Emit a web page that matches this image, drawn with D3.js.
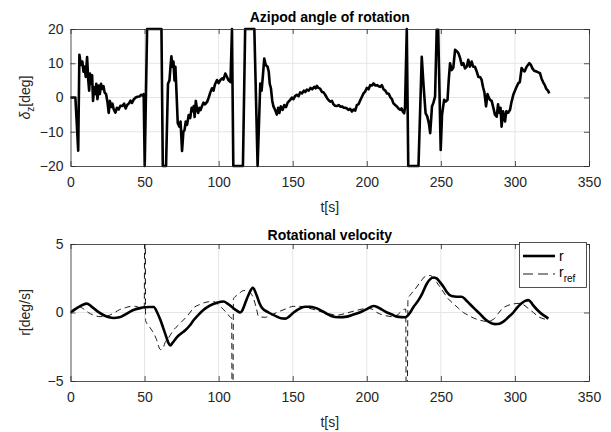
<!DOCTYPE html>
<html>
<head>
<meta charset="utf-8">
<script src="https://cdn.jsdelivr.net/npm/d3@7"></script>
<style>
  html, body { margin: 0; padding: 0; background: #fff; }
  svg { display: block; font-family: "Liberation Sans", Arial, Helvetica, sans-serif; }
  .axis text { fill: #262626; font-size: 14px; }
  .axis path, .axis line { stroke: #262626; stroke-width: 0.8; }
</style>
</head>
<body>
<svg id="chart" width="611" height="432"></svg>
<script>
// Azipod angle of rotation, delta_z [deg] over time t [s]
const azT = [0,3.3,5.2,6.0,7.0,8.0,8.8,9.5,10.3,11.2,12.0,12.6,13.2,14.0,14.6,15.2,16.0,16.8,17.4,18.2,19.0,19.8,20.6,21.4,22.3,23.0,24.0,25.0,25.8,26.6,27.4,28.3,29.2,30.3,31.3,32.5,33.7,35.0,36.2,37.2,38.3,39.5,40.5,41.5,42.8,44.0,45.2,46.5,47.8,48.8,49.4,50.1,51.7,61.4,62.3,64.5,65.8,66.8,67.5,68.1,68.8,69.5,70.2,70.8,71.5,72.4,73.5,74.3,75.3,76.2,77.0,77.8,78.7,79.8,80.8,81.8,82.6,83.2,83.8,84.6,85.4,86.2,87.0,87.7,88.8,89.8,90.8,92.2,93.3,94.4,95.5,96.5,97.5,98.9,100,101,102.3,103.2,104.5,105.4,106.7,108.0,109.0,109.9,116.4,117.9,124.1,126.3,128.1,129.0,129.8,130.8,131.8,133.0,133.8,134.5,135.3,136.2,137.0,138.0,139.3,140.2,141.0,142.0,143.2,144.3,145.5,146.6,148.3,149.5,150.5,151.6,152.8,154.0,155.0,156.2,157.5,158.5,159.5,160.8,162.0,163.2,164.5,165.5,166.3,167.3,168.5,169.8,170.8,171.9,173.2,174.3,175.3,176.5,177.5,178.6,179.8,181.0,182.3,183.4,184.5,185.6,186.6,187.6,188.7,190.0,191.0,192.2,193.3,194.5,195.6,196.8,197.8,199.0,200.0,201.2,202.3,203.5,204.5,205.8,207.0,208.0,209.0,210.2,211.3,212.5,213.6,214.8,216.0,217.0,218.0,219.2,220.3,221.4,222.5,223.5,224.3,225.2,225.8,227.0,228.0,234.9,237.1,238.4,239.7,240.8,241.9,242.8,243.5,244.0,245.0,246.1,247.2,248.2,249.9,250.8,252.2,253.3,254.5,255.3,256.2,257.3,258.4,259.6,260.8,261.9,263.0,264.1,265.2,266.3,267.5,268.5,269.6,270.8,271.8,273.0,274.2,275.3,276.4,277.5,278.5,279.4,280.5,281.5,282.3,283.2,284.3,285.5,286.5,287.7,288.6,289.5,290.3,291.0,292.0,293.3,294.2,295.3,296.7,297.6,298.9,300.0,301.0,302.3,303.3,304.5,305.5,306.5,307.9,308.8,309.7,310.8,311.8,313.0,315.0,316.9,318.0,319.0,320.2,321.2,322.3,323.2];
const azDeg = [0,0,-15.5,12.5,9.5,10.5,7.5,9,6,11.8,5,2,7,4,6.5,-1,3,1,4,-0.5,3.5,1,4,2.5,3.3,1.5,1,-1.5,-4.5,-1,-2.8,-1.8,-3.5,-4.4,-3,-3.5,-2.4,-2.5,-1.8,-3.2,-2.2,-1.7,-0.9,-1.6,-0.5,0,0.2,0.3,0.8,0.5,1,-20,20,20,-20,-20,4,5,9,12,9,10.5,5,9,2,-7.5,-8.5,-7,-15.6,-10,-9.5,-7,-8,-5.1,-6,-3,-4,-2.5,-5.7,-1,-3.5,-4.5,-3,-3.7,-2.5,-1.5,-2,-1.3,0,1.5,2.7,2,3.8,5.1,4.2,5,5.6,5.2,7,6.2,5,4.5,20,-20,-20,20,20,-20,4.1,2,6,11.4,9.5,9,7.6,4,2.7,-1,-2.6,-3.5,-5,-3,-4.5,-2.6,-3.6,-2.2,-2.8,-1.5,-0.7,0,-0.5,0.4,0.8,0.4,1.5,1.2,2,1.6,2.3,2,2.8,2.4,3.1,2.7,3.4,2.8,2.6,1.6,1.5,0.8,-0.2,-0.8,-1.2,-1,-2,-2.4,-2.5,-2.2,-2.7,-2.6,-3,-3,-3.2,-3.6,-3.3,-4.1,-3.5,-3.8,-2.2,-1.9,-0.8,0.3,1.2,1.8,2.8,2.4,3.6,3.5,4.1,3.5,3.6,3.3,3.1,3.6,2.4,2,1.2,1.1,0,-0.5,-1.7,-2.2,-2.6,-3.2,-3.6,-3.2,-4.1,-4.6,-3,20,-20,-20,11.9,3,-4.6,-5.5,-7.5,-10.4,-6,-2.6,-1.5,0.3,19.8,19.8,-15.3,-5,-0.7,-1.2,-0.7,5,10,8,8.7,13.9,13.5,12.9,11.5,9.5,10,8.5,9,11,9,10.5,9,9,7.6,6,6,5.2,3,1.5,-2.6,1,0,-0.7,-1,-3.1,-5,-5.6,-2,-4.5,-3,-8.5,-4,-7,-4,-4.5,-3.6,-1.5,0.8,2,3,4.2,4.5,8.6,8,7.6,9,9.5,10,9.5,8.5,7.8,7.5,7.1,5.5,4.5,3.6,2.5,2,1.2];

// Rotational velocity r [deg/s]
const rT = [0,4,8,11,14,18,22.5,26,29.2,33,36,40,43,47,50,53,56.2,58.5,60.7,62.5,64.7,66,67.4,69,71.9,74.5,77.5,80.5,83.2,86.5,89.9,94,98.9,103.4,106,109,112,114.6,116,117.3,120.2,123.1,125.5,127.5,129.2,133.7,139.3,142,145,147.5,150.6,154,158.5,162,166.3,170,173.1,176,180.9,186.6,191,195.6,200,204.6,208,213.6,217,220.3,225.9,229.3,231.5,234.9,237.5,240.5,245,247,249.5,252,254,257.3,261,264.1,267,269.7,273,276.4,279,282.1,286.6,289.5,292.2,295.5,298.9,301.5,304.5,307,309,310.8,312.5,315,318,320,322.5];
const rVal = [0,0.3,0.55,0.65,0.45,0.1,-0.2,-0.35,-0.4,-0.35,-0.2,0.05,0.2,0.32,0.38,0.4,0.4,0,-0.55,-1.1,-1.8,-2.2,-2.4,-2.2,-1.8,-1.55,-1.3,-0.95,-0.55,-0.15,0.2,0.5,0.72,0.8,0.65,0.4,0.15,0,0.15,0.5,1.3,1.8,1.3,0.7,0.35,0,-0.3,-0.42,-0.45,-0.3,0,0.25,0.42,0.42,0.3,0.1,-0.1,-0.25,-0.35,-0.3,-0.15,0.02,0.25,0.47,0.35,0,-0.15,-0.3,-0.35,0,0.4,0.9,1.4,2.1,2.55,2.5,2.2,1.85,1.5,1.2,1.15,1.15,0.9,0.6,0.25,-0.1,-0.4,-0.67,-0.85,-0.82,-0.67,-0.35,0,0.35,0.67,0.85,0.9,0.75,0.5,0.2,-0.1,-0.25,-0.45];

// Reference rotational velocity r_ref [deg/s]; the three spikes run past the axis limits
const refT = [0,3,6,9,12,15.7,20,25,29,33,37,41,44,47.8,49.8,50.3,50.7,53,55.5,57.8,60.7,62.5,63.8,66.5,69.4,72.5,76.2,80,83.2,86.5,89.9,93,96.6,100,103.4,106,107.9,108.8,109.3,110,113,116.9,120,123.6,125.5,127,131.5,135,139.3,145,150.6,155,159.6,165,170.8,175,179.8,186,193,200,203.5,206.8,210,213.6,217,220.3,224.7,226.3,226.9,227.8,229.5,232.6,236,239.7,243,245,247.2,251.7,255,258.4,262,265.2,268.5,272,276,281,285.5,288.5,292.2,295,297.8,303.4,306,309,312.5,315.8,319,322.5];
const refVal = [0,0.2,0.4,0.25,0,-0.2,-0.3,-0.25,-0.05,0.2,0.35,0.45,0.45,0.3,0.3,20,-0.6,-1.0,-1.4,-1.9,-2.7,-2.6,-2.2,-1.8,-1.3,-0.95,-0.55,-0.1,0.35,0.55,0.7,0.78,0.8,0.55,0.2,-0.1,-0.35,-0.4,-20,1.0,1.3,1.6,1.55,1.0,0.3,-0.3,-0.35,-0.2,0,0.25,0.45,0.45,0.35,0.2,0,-0.1,-0.2,-0.05,0.15,0.3,0.25,0,-0.15,-0.25,-0.3,-0.2,0.2,0.25,-20,1.0,1.3,1.7,2.2,2.65,2.7,2.5,2.2,1.5,1.0,0.65,0.3,0,-0.2,-0.4,-0.55,-0.65,-0.5,-0.1,0.35,0.5,0.6,0.67,0.55,0.3,0,-0.3,-0.45,-0.55];

const xTicks = [0,50,100,150,200,250,300,350];
const y1Ticks = [-20,-10,0,10,20];
const y2Ticks = [-5,0,5];

const svg = d3.select("#chart");
const ink = "#262626";
const gridCol = "#e5e5e5";
const L = 70.5, R = 589;

function panel(yRange, yDomain, yTicks, clipId) {
  const x = d3.scaleLinear().domain([0, 350]).range([L, R]);
  const y = d3.scaleLinear().domain(yDomain).range(yRange);
  const g = svg.append("g");
  // grid
  g.append("g").selectAll("line").data(xTicks.slice(1, -1)).join("line")
    .attr("x1", d => x(d)).attr("x2", d => x(d))
    .attr("y1", yRange[1]).attr("y2", yRange[0])
    .attr("stroke", gridCol).attr("stroke-width", 1);
  g.append("g").selectAll("line").data(yTicks.slice(1, -1)).join("line")
    .attr("x1", L).attr("x2", R)
    .attr("y1", d => y(d)).attr("y2", d => y(d))
    .attr("stroke", gridCol).attr("stroke-width", 1);
  svg.append("defs").append("clipPath").attr("id", clipId)
    .append("rect").attr("x", L).attr("y", yRange[1])
    .attr("width", R - L).attr("height", yRange[0] - yRange[1]);
  return { x, y, g };
}

function frame(p, yRange, yTicks) {
  const { x, y, g } = p;
  g.append("g").attr("class", "axis").attr("transform", `translate(0,${yRange[0]})`)
    .call(d3.axisBottom(x).tickValues(xTicks).tickSizeInner(-5).tickSizeOuter(0).tickPadding(11));
  g.append("g").attr("class", "axis").attr("transform", `translate(0,${yRange[1]})`)
    .call(d3.axisTop(x).tickValues(xTicks).tickSizeInner(-5).tickSizeOuter(0).tickFormat(""));
  g.append("g").attr("class", "axis").attr("transform", `translate(${L},0)`)
    .call(d3.axisLeft(y).tickValues(yTicks).tickSizeInner(-5).tickSizeOuter(0).tickPadding(7));
  g.append("g").attr("class", "axis").attr("transform", `translate(${R},0)`)
    .call(d3.axisRight(y).tickValues(yTicks).tickSizeInner(-5).tickSizeOuter(0).tickFormat(""));
}

// ---- Top panel: azipod angle ----
const yr1 = [166, 29];
const p1 = panel(yr1, [-20, 20], y1Ticks, "clip1");
const azData = azT.map((t, i) => [t, azDeg[i]]);
p1.g.append("path").datum(azData)
  .attr("fill", "none").attr("stroke", "#000").attr("stroke-width", 2.6)
  .attr("stroke-linejoin", "round")
  .attr("d", d3.line().x(d => p1.x(d[0])).y(d => p1.y(d[1])));
frame(p1, yr1, y1Ticks);

svg.append("text").attr("x", (L + R) / 2).attr("y", 22).attr("text-anchor", "middle")
  .attr("font-weight", "bold").attr("font-size", 14).attr("fill", "#000")
  .text("Azipod angle of rotation");
svg.append("text").attr("x", (L + R) / 2).attr("y", 212).attr("text-anchor", "middle")
  .attr("font-size", 14).attr("fill", ink).text("t[s]");
const yl1 = svg.append("text").attr("transform", `translate(30,${(yr1[0] + yr1[1]) / 2}) rotate(-90)`)
  .attr("text-anchor", "middle").attr("font-size", 14).attr("fill", ink);
yl1.append("tspan").attr("font-style", "italic").text("δ");
yl1.append("tspan").attr("font-size", 10).attr("dy", 4).text("z");
yl1.append("tspan").attr("dy", -4).text("[deg]");

// ---- Bottom panel: rotational velocity ----
const yr2 = [381, 244];
const p2 = panel(yr2, [-5, 5], y2Ticks, "clip2");
const lineGen = d3.line().curve(d3.curveMonotoneX).x(d => p2.x(d[0])).y(d => p2.y(d[1]));
const plotG = p2.g.append("g").attr("clip-path", "url(#clip2)");
plotG.append("path").datum(refT.map((t, i) => [t, refVal[i]]))
  .attr("fill", "none").attr("stroke", "#000").attr("stroke-width", 0.9)
  .attr("stroke-dasharray", "6,4").attr("d", lineGen);
plotG.append("path").datum(rT.map((t, i) => [t, rVal[i]]))
  .attr("fill", "none").attr("stroke", "#000").attr("stroke-width", 2.6)
  .attr("stroke-linejoin", "round").attr("d", lineGen);
frame(p2, yr2, y2Ticks);

svg.append("text").attr("x", (L + R) / 2).attr("y", 240).attr("text-anchor", "middle")
  .attr("font-weight", "bold").attr("font-size", 14).attr("fill", "#000")
  .text("Rotational velocity");
svg.append("text").attr("x", (L + R) / 2).attr("y", 427).attr("text-anchor", "middle")
  .attr("font-size", 14).attr("fill", ink).text("t[s]");
svg.append("text").attr("transform", `translate(30,${(yr2[0] + yr2[1]) / 2}) rotate(-90)`)
  .attr("text-anchor", "middle").attr("font-size", 14).attr("fill", ink).text("r[deg/s]");

// legend
const lg = svg.append("g");
lg.append("rect").attr("x", 519.5).attr("y", 242.5).attr("width", 67).attr("height", 45)
  .attr("fill", "#fff").attr("stroke", ink).attr("stroke-width", 0.8);
lg.append("line").attr("x1", 523).attr("x2", 555).attr("y1", 256).attr("y2", 256)
  .attr("stroke", "#000").attr("stroke-width", 2.6);
lg.append("text").attr("x", 559).attr("y", 261).attr("font-size", 14).attr("fill", "#000").text("r");
lg.append("line").attr("x1", 523).attr("x2", 555).attr("y1", 274).attr("y2", 274)
  .attr("stroke", "#000").attr("stroke-width", 0.9).attr("stroke-dasharray", "10,5");
const lt = lg.append("text").attr("x", 559).attr("y", 277).attr("font-size", 14).attr("fill", "#000");
lt.append("tspan").text("r");
lt.append("tspan").attr("font-size", 10).attr("dy", 5).text("ref");
</script>
</body>
</html>
